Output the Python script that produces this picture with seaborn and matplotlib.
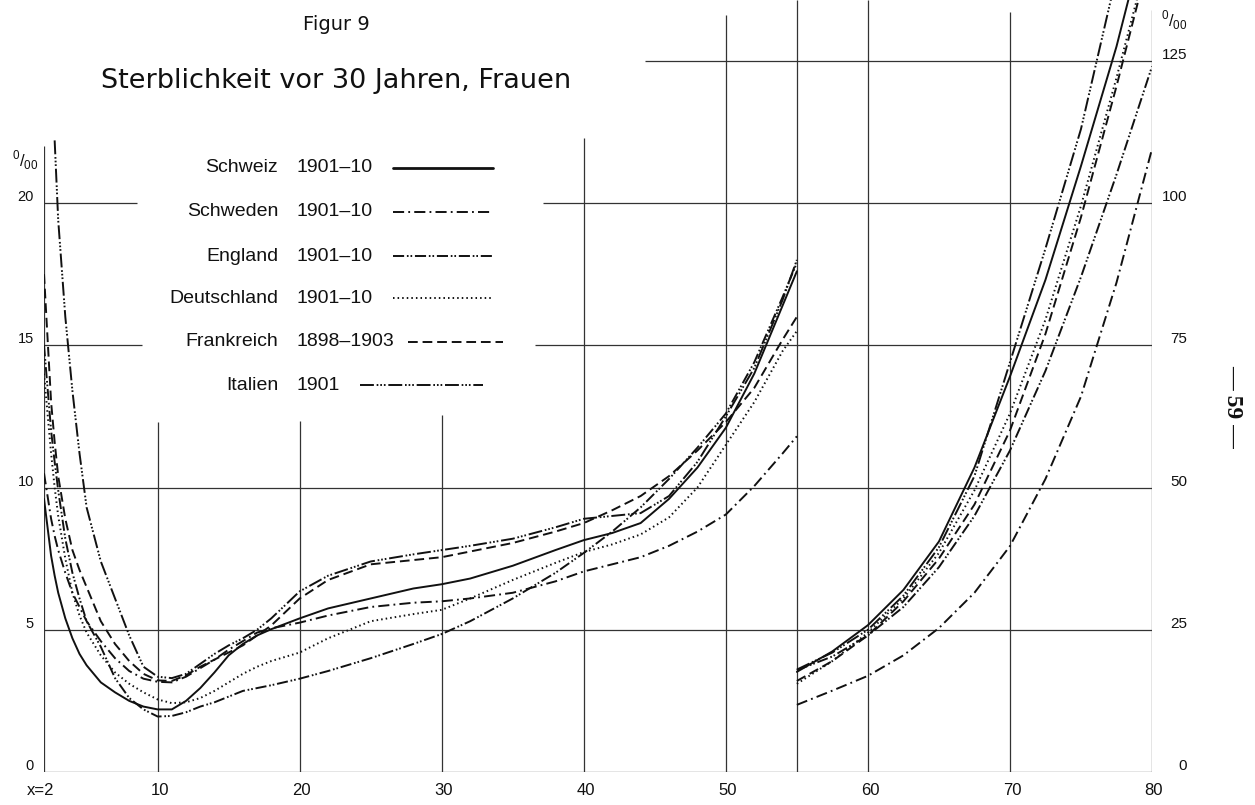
import numpy as np
import pandas as pd
import matplotlib
matplotlib.use("Agg")
import matplotlib.pyplot as plt
import seaborn as sns
from matplotlib.lines import Line2D

# ---------------- data ----------------
countries = ["Schweiz", "Schweden", "England", "Deutschland", "Frankreich", "Italien"]
periods = ["1901\u201310", "1901\u201310", "1901\u201310", "1901\u201310", "1898\u20131903", "1901"]

ages_left = [2, 2.5, 2.75, 3, 3.5, 4, 4.5, 5, 6, 7, 8, 9, 10, 11, 12, 13, 14, 15, 16, 17, 18,
             20, 22, 25, 28, 30, 32, 35, 38, 40, 42, 44, 46, 48, 50, 52, 54, 55]
schweiz_left = [9.6, 7.6, 6.9, 6.3, 5.4, 4.7, 4.15, 3.75, 3.15, 2.8, 2.5, 2.3, 2.2, 2.2, 2.5, 2.95,
                3.5, 4.1, 4.5, 4.8, 5.02, 5.4, 5.75, 6.1, 6.45, 6.6, 6.8, 7.25, 7.8, 8.15, 8.4, 8.75,
                9.6, 10.7, 12.1, 14.0, 16.4, 17.6]
schweden_left = [10.5, 8.9, 8.3, 7.8, 7.0, 6.3, 5.8, 5.3, 4.6, 4.0, 3.55, 3.28, 3.17, 3.15, 3.35,
                 3.65, 3.95, 4.3, 4.6, 4.9, 5.05, 5.25, 5.5, 5.8, 5.95, 6.0, 6.1, 6.3, 6.7, 7.05,
                 7.3, 7.55, 7.95, 8.45, 9.05, 10.05, 11.2, 11.8]
england_left = [15.0, 12.0, 10.9, 9.9, 8.2, 7.0, 6.1, 5.3, 4.4, 3.3, 2.6, 2.2, 1.95, 1.97, 2.1, 2.3,
                2.45, 2.65, 2.85, 2.95, 3.05, 3.28, 3.55, 4.0, 4.5, 4.85, 5.3, 6.1, 7.0, 7.7, 8.45,
                9.3, 10.3, 11.4, 12.6, 14.4, 16.7, 17.9]
deutschland_left = [14.0, 11.2, 10.0, 9.0, 7.5, 6.3, 5.5, 4.9, 4.1, 3.5, 3.1, 2.8, 2.55, 2.42, 2.45,
                    2.6, 2.85, 3.15, 3.45, 3.7, 3.9, 4.2, 4.7, 5.3, 5.55, 5.7, 6.1, 6.75, 7.35, 7.73,
                    8.0, 8.35, 8.95, 10.0, 11.5, 13.0, 14.8, 15.5]
frankreich_left = [17.5, 13.0, 11.6, 10.4, 8.9, 7.8, 7.1, 6.5, 5.3, 4.5, 3.9, 3.45, 3.22, 3.2, 3.4,
                   3.7, 3.95, 4.2, 4.45, 4.8, 5.15, 6.1, 6.75, 7.3, 7.45, 7.55, 7.75, 8.05, 8.45,
                   8.75, 9.2, 9.7, 10.4, 11.3, 12.3, 13.5, 15.2, 16.0]
italien_left = [None, None, 22.2, 19.4, 16.0, 13.4, 11.2, 9.3, 7.4, 6.1, 4.8, 3.7, 3.35, 3.3, 3.45,
                3.8, 4.15, 4.45, 4.7, 5.0, 5.4, 6.35, 6.9, 7.4, 7.65, 7.8, 7.95, 8.2, 8.6, 8.9,
                9.0, 9.1, 9.7, 10.9, 12.5, 14.2, 16.6, 18.0]

ages_right = [55, 57.5, 60, 62.5, 65, 67.5, 70, 72.5, 75, 77.5, 80]
schweiz_right = [17.6, 21.2, 25.8, 32.0, 40.5, 53.5, 69.5, 86.5, 106.5, 127.5, 152.0]
schweden_right = [11.8, 14.3, 16.9, 20.5, 25.3, 31.5, 39.7, 51.5, 66.0, 86.0, 109.5]
england_right = [17.9, 20.3, 24.0, 29.0, 36.0, 45.0, 56.5, 70.5, 87.0, 105.0, 124.0]
deutschland_right = [15.5, 19.5, 24.5, 30.5, 38.5, 49.5, 63.0, 79.5, 99.5, 122.0, 146.0]
frankreich_right = [16.0, 19.5, 24.0, 30.0, 37.5, 47.0, 60.0, 77.0, 97.5, 120.5, 145.0]
italien_right = [18.0, 21.0, 25.0, 31.0, 39.5, 52.0, 72.0, 92.0, 113.0, 140.0, 165.0]

left_ticks = [0, 5, 10, 15, 20]
right_ticks = [0, 25, 50, 75, 100, 125]
x_ticks = [10, 20, 30, 40, 50, 60, 70, 80]

left_series = [schweiz_left, schweden_left, england_left, deutschland_left, frankreich_left, italien_left]
right_series = [schweiz_right, schweden_right, england_right, deutschland_right, frankreich_right, italien_right]

# ---------------- style ----------------
sns.set_theme(style="white")
plt.rcParams['font.family'] = ['Liberation Sans', 'DejaVu Sans']
plt.rcParams['lines.scale_dashes'] = False
plt.rcParams['mathtext.fontset'] = 'custom'
plt.rcParams['mathtext.rm'] = 'Liberation Sans'

styles = {
    "Schweiz": '-',
    "Schweden": (0, (8, 3, 1.3, 3)),
    "England": (0, (8, 2, 1.2, 1.4, 1.2, 2)),
    "Deutschland": (0, (1.1, 2.2)),
    "Frankreich": (0, (7, 3.5)),
    "Italien": (0, (10, 2, 1.2, 1.4, 1.2, 1.4, 1.2, 2)),
}
INK = '#111111'
GRID = '#333333'

W, H = 1255, 805
fig = plt.figure(figsize=(W / 100, H / 100), dpi=100)
fig.patch.set_facecolor('white')
X0, X1, Y0 = 44, 1152, 772
PXU = 28.45
YTOP = Y0 / PXU
ax = fig.add_axes([X0 / W, (H - Y0) / H, (X1 - X0) / W, Y0 / H])
ax.set_xlim(2, 80)
ax.set_ylim(0, YTOP)
ax.axis('off')
ax2 = ax.twinx()
ax2.set_ylim(0, YTOP * 5)
ax2.axis('off')

# grid segments (partial lines as in the original)
hsegs = [(0, 2, 80), (5, 2, 80), (10, 2, 80), (15, 2, 8.9), (15, 36.6, 80),
         (20, 2, 8.55), (20, 37.1, 80), (25, 44.3, 80)]
vsegs = [(2, 0, 22.0), (10, 0, 12.3), (20, 0, 12.35), (30, 0, 12.55), (40, 0, 22.3),
         (50, 0, 26.6), (55, 0, YTOP), (60, 0, YTOP), (70, 0, 26.7), (80, 0, 26.8)]
for y, xa, xb in hsegs:
    ax.hlines(y, xa, xb, color=GRID, lw=0.9, zorder=1)
for x, ya, yb in vsegs:
    ax.vlines(x, ya, yb, color=GRID, lw=0.9, zorder=1)

# curves
for name, yl, yr in zip(countries, left_series, right_series):
    dfl = pd.DataFrame({"age": ages_left, "val": yl}).dropna()
    sns.lineplot(data=dfl, x="age", y="val", ax=ax, color=INK, lw=1.4,
                 linestyle=styles[name], sort=False, estimator=None, legend=False, zorder=3)
    dfr = pd.DataFrame({"age": ages_right, "val": yr})
    sns.lineplot(data=dfr, x="age", y="val", ax=ax2, color=INK, lw=1.4,
                 linestyle=styles[name], sort=False, estimator=None, legend=False, zorder=3)
for a in (ax, ax2):
    a.set_xlim(2, 80)
ax.set_ylim(0, YTOP)
ax2.set_ylim(0, YTOP * 5)
ax.axis('off')
ax2.axis('off')

# tick labels
for v in left_ticks:
    ax.annotate(str(v), (2, v), xytext=(-10, 6), textcoords='offset pixels',
                ha='right', va='center', fontsize=10.5, color=INK)
for v in right_ticks:
    ax2.annotate(str(v), (80, v), xytext=(35, 6), textcoords='offset pixels',
                 ha='right', va='center', fontsize=11, color=INK)
for v in x_ticks:
    ax.annotate(str(v), (v, 0), xytext=(2, -18), textcoords='offset pixels',
                ha='center', va='center', fontsize=12, color=INK)
ax.annotate("x=2", (2, 0), xytext=(-3, -18), textcoords='offset pixels',
            ha='center', va='center', fontsize=12, color=INK)
fig.text(25 / W, 1 - 160 / H, r'$^{0}/_{00}$', ha='center', va='center', fontsize=12, color=INK)
fig.text(1174 / W, 1 - 20 / H, r'$^{0}/_{00}$', ha='center', va='center', fontsize=12, color=INK)

# titles
fig.text(336 / W, 1 - 25 / H, "Figur 9", ha='center', va='center', fontsize=14,
         family=['DejaVu Sans'], color=INK)
fig.text(336 / W, 1 - 81 / H, "Sterblichkeit vor 30 Jahren, Frauen", ha='center', va='center',
         fontsize=19.5, family=['DejaVu Sans'], color=INK)

# legend
row_y = [168, 212, 256, 298, 342, 385]
line_x = [(393, 493), (393, 493), (393, 493), (393, 493), (408, 503), (360, 483)]
for name, per, yy, (la, lb) in zip(countries, periods, row_y, line_x):
    fig.text(278 / W, 1 - yy / H, name, ha='right', va='center', fontsize=14, color=INK)
    fig.text(297 / W, 1 - yy / H, per, ha='left', va='center', fontsize=14, color=INK)
    fig.add_artist(Line2D([la / W, lb / W], [1 - yy / H, 1 - yy / H], color=INK,
                          lw=2.0 if name == "Schweiz" else 1.4, linestyle=styles[name]))

# page number
fig.text(1233 / W, 1 - 406 / H, "\u2014 59 \u2014", rotation=270, ha='center', va='center',
         fontsize=17, fontweight='bold', family=['Liberation Serif', 'DejaVu Serif'], color=INK)

fig.savefig("out.png", dpi=100, facecolor='white')
